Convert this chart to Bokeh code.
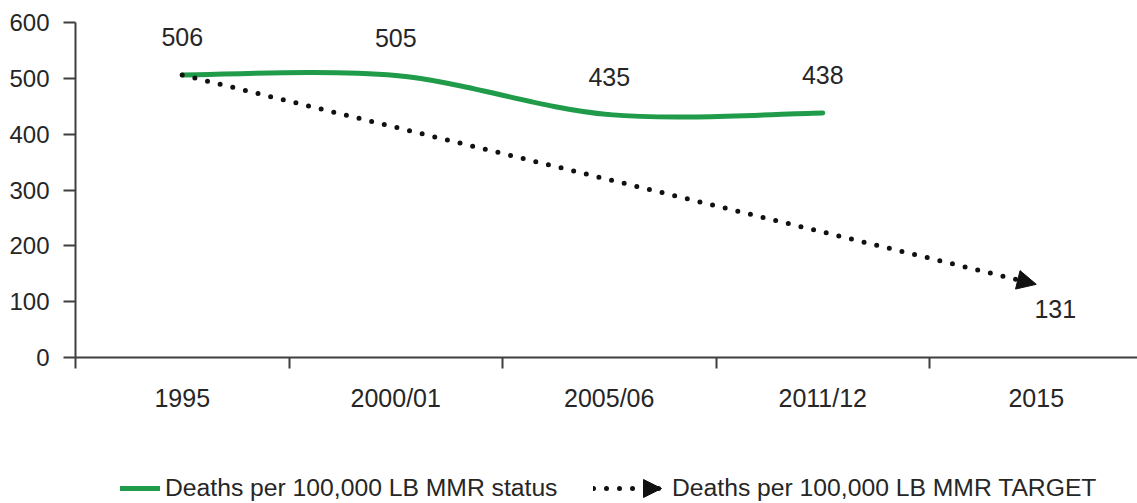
import numpy as np
from bokeh.plotting import figure
from bokeh.layouts import column
from bokeh.models import (FixedTicker, Legend, LegendItem, Arrow, NormalHead,
                          ColumnDataSource, Range1d)
from bokeh.core.properties import value
from bokeh.embed import file_html
from bokeh.resources import INLINE

# ---------------- data ----------------
categories = ["1995", "2000/01", "2005/06", "2011/12", "2015"]
status_labels = ["1995", "2000/01", "2005/06", "2011/12"]
status_values = [506, 505, 435, 438]
target_labels = ["1995", "2015"]
target_values = [506, 131]
y_ticks = [0, 100, 200, 300, 400, 500, 600]
legend_status = "Deaths per 100,000 LB MMR status"
legend_target = "Deaths per 100,000 LB MMR TARGET"

FONT = "Liberation Sans"
TXT = "#262626"
GREEN = "#1f9b4a"
AXIS = "#3f3f3f"
DOT = "#111111"

cat_index = {c: i for i, c in enumerate(categories)}
sx = [cat_index[c] for c in status_labels]
tx = [cat_index[c] for c in target_labels]

# layout geometry (pixels)
W = 1137
H_MAIN = 420
H_LEG = 83
FRAME_LEFT, FRAME_TOP, FRAME_BOTTOM = 75, 22, 357
CAT_PX = 213.5
x_start = -0.5
x_end = x_start + (W - FRAME_LEFT) / CAT_PX

p = figure(width=W, height=H_MAIN, output_backend="svg", toolbar_location=None,
           x_range=Range1d(x_start, x_end), y_range=Range1d(0, 600),
           min_border_left=FRAME_LEFT, min_border_right=0,
           min_border_top=FRAME_TOP, min_border_bottom=H_MAIN - FRAME_BOTTOM)
p.outline_line_color = None
p.xgrid.visible = False
p.ygrid.visible = False

# ---- axes ----
xa = p.xaxis[0]
xa.ticker = FixedTicker(ticks=list(range(len(categories))),
                        minor_ticks=[i - 0.5 for i in range(len(categories))])
xa.major_label_overrides = {i: c for i, c in enumerate(categories)}
xa.major_tick_out = 0
xa.major_tick_in = 0
xa.minor_tick_out = 11
xa.minor_tick_in = 0
xa.minor_tick_line_color = AXIS
xa.minor_tick_line_width = 2
xa.axis_line_color = AXIS
xa.axis_line_width = 2
xa.major_label_standoff = 15
xa.major_label_text_font = FONT
xa.major_label_text_font_size = "25px"
xa.major_label_text_color = TXT

ya = p.yaxis[0]
ya.ticker = FixedTicker(ticks=y_ticks)
ya.major_tick_out = 12
ya.major_tick_in = 0
ya.minor_tick_out = 0
ya.minor_tick_in = 0
ya.major_tick_line_color = AXIS
ya.major_tick_line_width = 2
ya.axis_line_color = AXIS
ya.axis_line_width = 2
ya.major_label_standoff = 14
ya.major_label_text_font = FONT
ya.major_label_text_font_size = "24px"
ya.major_label_text_color = TXT

# ---- smoothed status line (Excel-style Bezier smoothing) ----
n = len(sx)
x0s, y0s, x1s, y1s, c0x, c0y, c1x, c1y = [], [], [], [], [], [], [], []
for i in range(n - 1):
    pr = max(i - 1, 0)
    nx = min(i + 2, n - 1)
    x0s.append(sx[i]); y0s.append(status_values[i])
    x1s.append(sx[i + 1]); y1s.append(status_values[i + 1])
    c0x.append(sx[i] + (sx[i + 1] - sx[pr]) / 6)
    c0y.append(status_values[i] + (status_values[i + 1] - status_values[pr]) / 6)
    c1x.append(sx[i + 1] - (sx[nx] - sx[i]) / 6)
    c1y.append(status_values[i + 1] - (status_values[nx] - status_values[i]) / 6)
bsrc = ColumnDataSource(dict(x0=x0s, y0=y0s, x1=x1s, y1=y1s,
                             cx0=c0x, cy0=c0y, cx1=c1x, cy1=c1y))
p.bezier(x0="x0", y0="y0", x1="x1", y1="y1", cx0="cx0", cy0="cy0",
         cx1="cx1", cy1="cy1", source=bsrc, line_color=GREEN,
         line_width=5, line_cap="round")

# ---- target dotted line with arrow ----
p.line(x=tx, y=target_values, line_color=DOT, line_width=5,
       line_dash="0 13", line_cap="round")
t = 0.97
p.add_layout(Arrow(x_start=tx[0] + t * (tx[1] - tx[0]),
                   y_start=target_values[0] + t * (target_values[1] - target_values[0]),
                   x_end=tx[1], y_end=target_values[1], line_alpha=0,
                   end=NormalHead(size=19, fill_color=DOT, fill_alpha=1.0,
                                  line_color=DOT, line_width=1)))

# ---- data labels ----
p.text(x=sx, y=status_values, text=[str(v) for v in status_values],
       y_offset=-38, text_align="center", text_baseline="middle",
       text_font=value(FONT), text_font_size="25px", text_color=TXT)
p.text(x=[tx[1]], y=[target_values[1]], text=[str(target_values[1])],
       x_offset=19, y_offset=25, text_align="center", text_baseline="middle",
       text_font=value(FONT), text_font_size="25px", text_color=TXT)

# ---------------- legend strip (frame aligns with the main frame) ----------------
lf = figure(width=W, height=H_LEG, output_backend="svg", toolbar_location=None,
            x_range=Range1d(FRAME_LEFT, W), y_range=Range1d(0, H_LEG),
            min_border_left=FRAME_LEFT, min_border_right=0,
            min_border_top=0, min_border_bottom=0, outline_line_color=None)
lf.axis.visible = False
lf.grid.visible = False
r_status = lf.line(x=[np.nan], y=[np.nan], line_color=GREEN, line_width=5,
                   line_cap="round")
r_target = lf.line(x=[np.nan], y=[np.nan], line_color=DOT, line_width=5,
                   line_dash="0 13", line_cap="round")

LEG_Y = 1
ITEM_H = 28
def leg(item, vx, gw, standoff):
    return Legend(items=[item], location=(vx - FRAME_LEFT, LEG_Y), orientation="horizontal",
                  glyph_width=gw, glyph_height=ITEM_H, label_standoff=standoff,
                  padding=0, margin=0, spacing=0, border_line_color=None,
                  background_fill_alpha=0, label_text_font=FONT,
                  label_text_font_size="24.7px", label_text_color=TXT,
                  label_height=ITEM_H)

lf.add_layout(leg(LegendItem(label=legend_status, renderers=[r_status]), 120, 40, 5), "center")
lf.add_layout(leg(LegendItem(label=legend_target, renderers=[r_target]), 593, 68, 11), "center")
# arrow head of the legend sample
lf.add_layout(Arrow(x_start=640, y_start=LEG_Y + ITEM_H / 2, x_end=661,
                    y_end=LEG_Y + ITEM_H / 2, line_alpha=0,
                    end=NormalHead(size=18, fill_color=DOT, fill_alpha=1.0,
                                   line_color=DOT, line_width=1)))

layout = column(p, lf, spacing=0)
open("out.html", "w").write(file_html(layout, INLINE))
